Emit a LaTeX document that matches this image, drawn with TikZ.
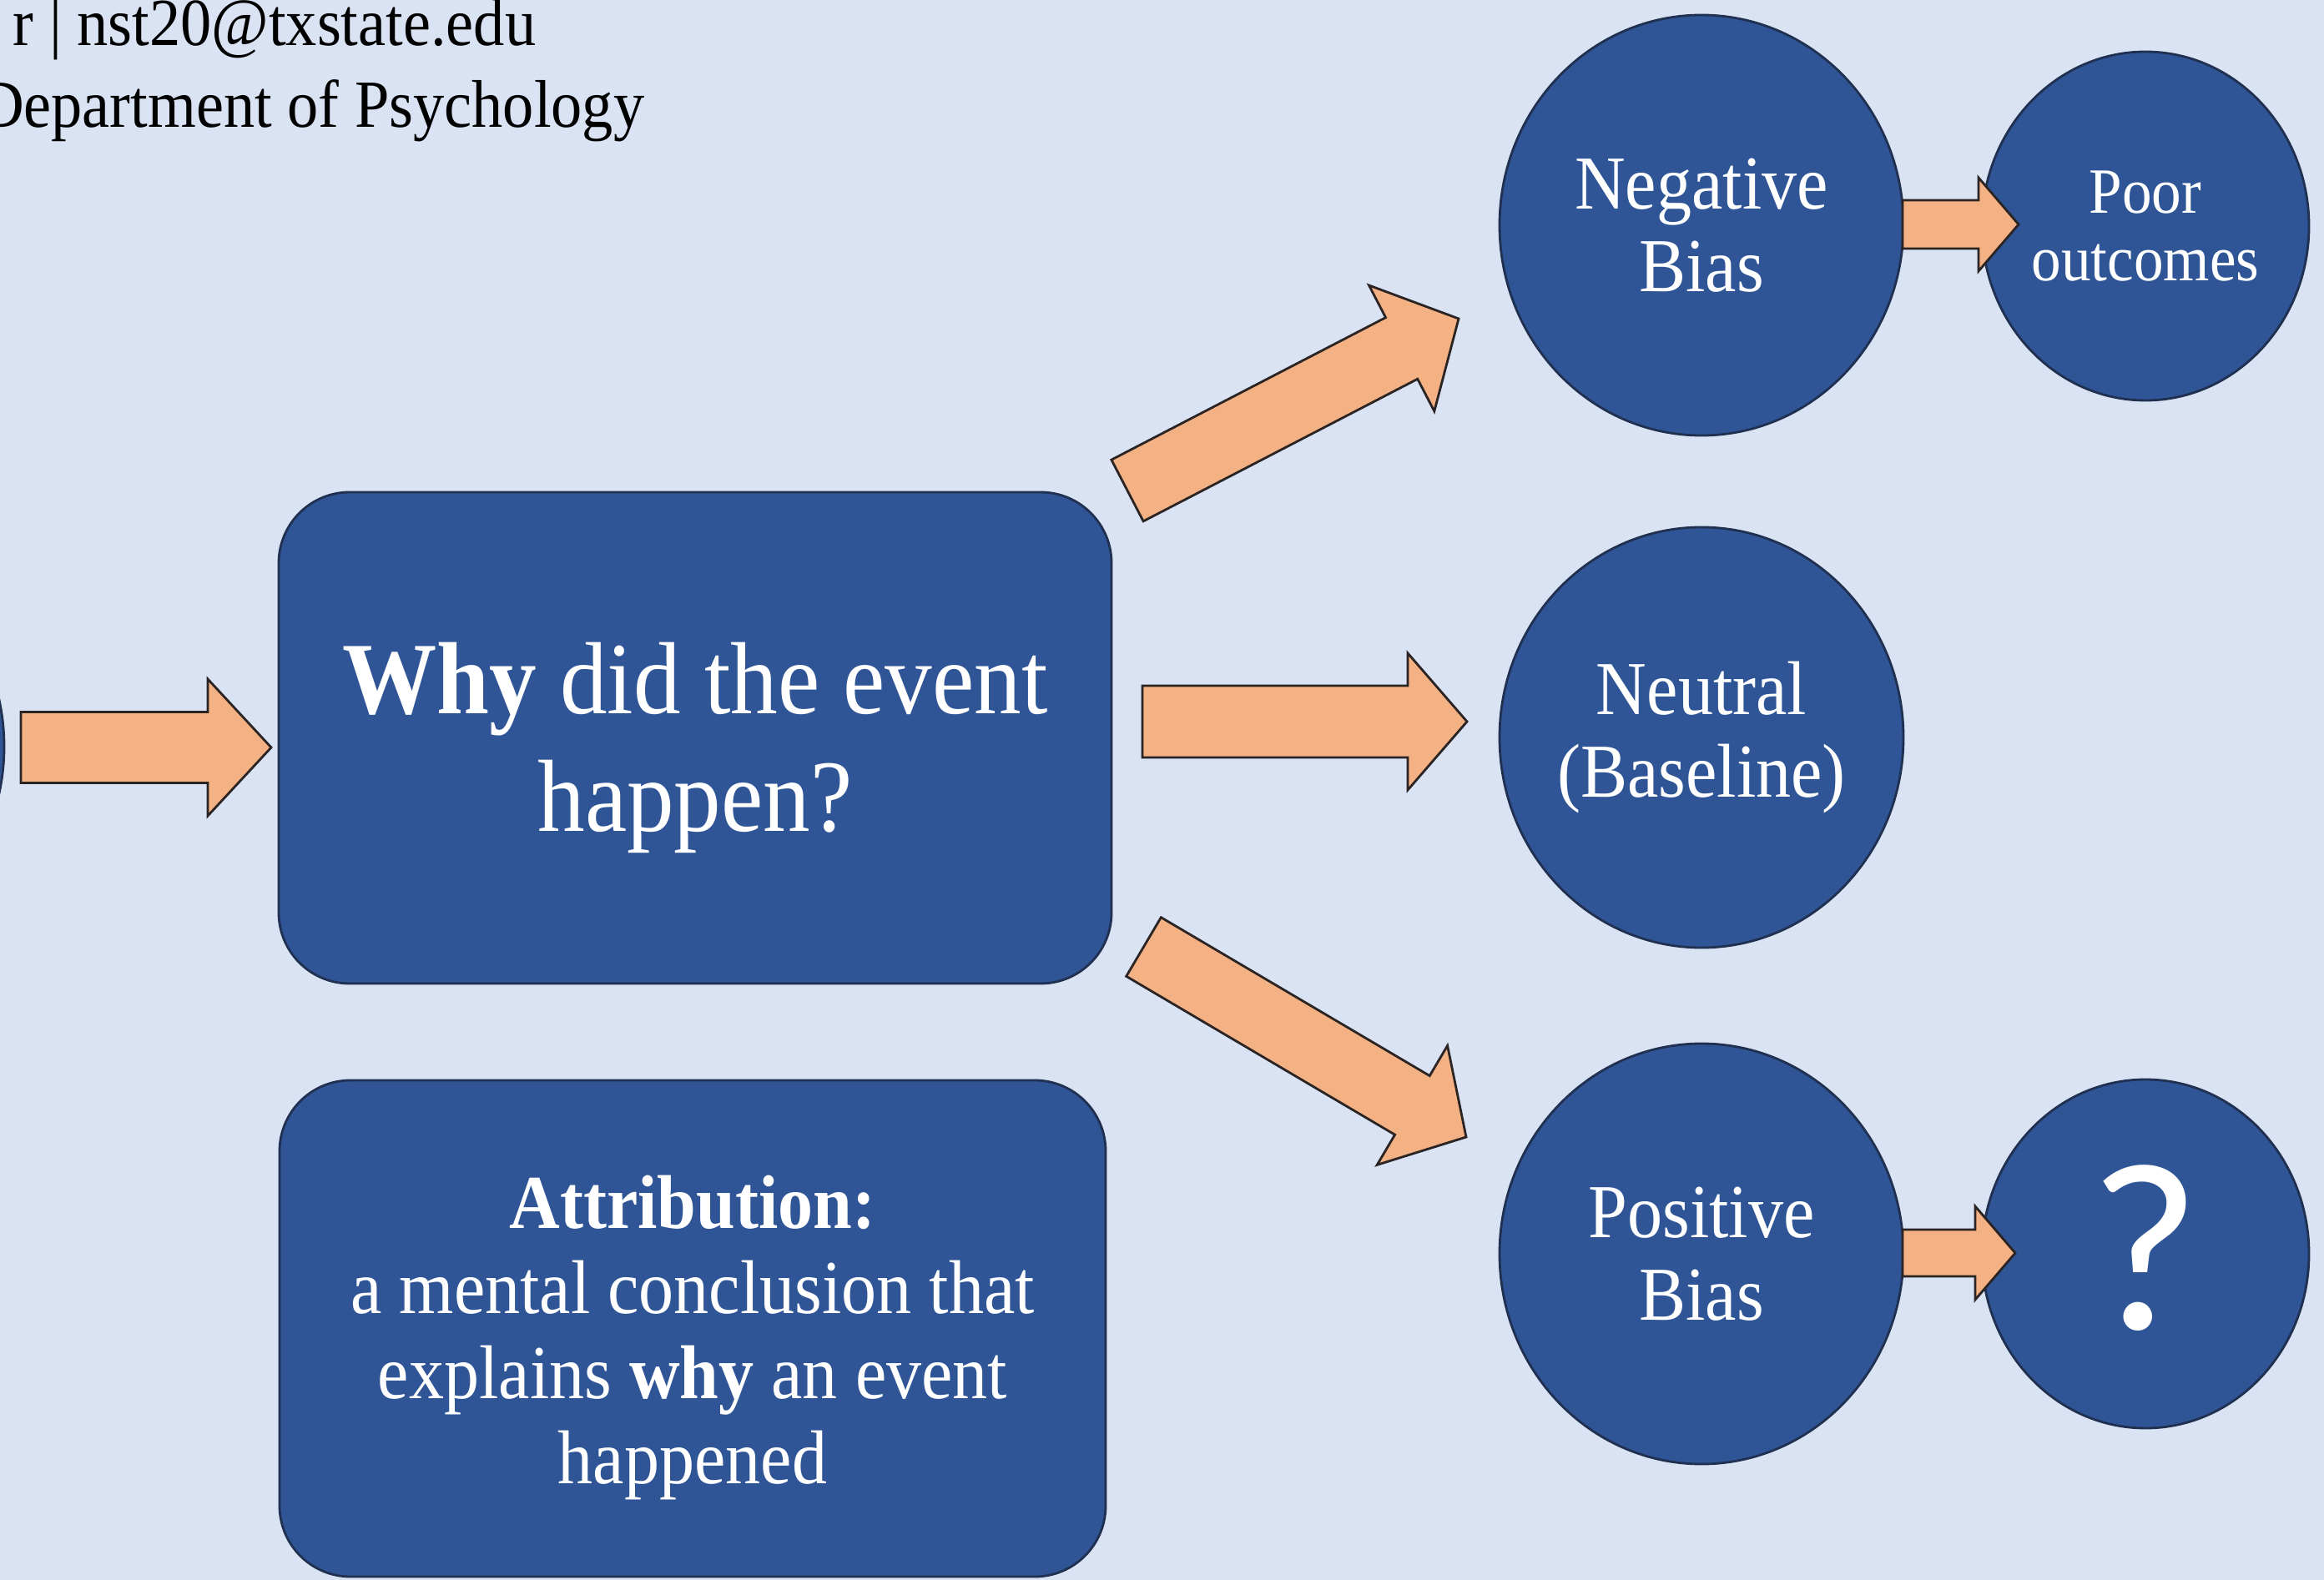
\documentclass[tikz,border=0pt]{standalone}
\usepackage{fontspec}
\setmainfont{Liberation Serif}[FakeStretch=0.92]
\newfontfamily\qmarkfont{Carlito}
\usepackage{xcolor}
\usetikzlibrary{shapes,calc,positioning}

\definecolor{bgblue}{HTML}{DAE3F3}
\definecolor{boxblue}{HTML}{2F5597}
\definecolor{boxline}{HTML}{1F3050}
\definecolor{arroworange}{HTML}{F4B183}
\definecolor{arrowline}{HTML}{2B2424}

\tikzset{
  bluebox/.style={draw=boxline, fill=boxblue, line width=0.8pt, rounded corners=0.85cm, text=white, align=center},
  bluedot/.style={ellipse, draw=boxline, fill=boxblue, line width=0.8pt, inner sep=0pt, minimum width=4.84cm, minimum height=5.04cm},
  smalldot/.style={bluedot, minimum width=3.92cm, minimum height=4.18cm},
  dottext/.style={text=white, align=center, font=\fontsize{26}{28}\selectfont},
  headtext/.style={text=black, inner sep=0pt, font=\fontsize{23}{27}\selectfont},
  fatarrow/.style={draw=arrowline, fill=arroworange, line width=0.8pt, line join=miter}
}

% block arrow: tail, tip, half shaft width, half head width, head length
\newcommand{\blockarrow}[5]{%
  \coordinate (hb) at ($(#2)!#5!(#1)$);
  \draw[fatarrow] ($(#1)!#3!90:(#2)$) -- ($(hb)!#3!90:(#2)$) -- ($(hb)!#4!90:(#2)$) -- (#2)
    -- ($(hb)!#4!-90:(#2)$) -- ($(hb)!#3!-90:(#2)$) -- ($(#1)!#3!-90:(#2)$) -- cycle;
}

\begin{document}
\begin{tikzpicture}
\useasboundingbox (0,0) rectangle (27.85,-18.94);
\clip (0,0) rectangle (27.85,-18.94);
\fill[bgblue] (0,0) rectangle (27.85,-18.94);

% contact lines, cut at the left edge
\node[headtext, anchor=base east] (mail) at (6.43,-0.55) {r | nst20@txstate.edu};
\node[headtext, anchor=base east] (dept) at (7.73,-1.53) {Department of Psychology};

% shape cut off at the left edge
\draw[draw=boxline, fill=boxblue, line width=0.8pt] (-2.37,-8.95) ellipse (2.42 and 2.52);

% boxes
\node[bluebox, minimum width=9.98cm, minimum height=5.89cm] (why) at (8.33,-8.845) {};
\node[text=white, align=center, font=\fontsize{35}{40}\selectfont] at ($(why)+(0,-0.12)$) {\textbf{Why} did the event\\happen?};
\node[bluebox, minimum width=9.90cm, minimum height=5.95cm] (attr) at (8.30,-15.925) {};
\node[text=white, align=center, font=\fontsize{26}{29}\selectfont] at ($(attr)+(0,-0.11)$) {\textbf{Attribution:}\\a mental conclusion that\\explains \textbf{why} an event\\happened};

% outcomes
\node[bluedot] (neg) at (20.39,-2.70) {};
\node[dottext] at (neg) {Negative\\Bias};
\node[bluedot] (neu) at (20.39,-8.84) {};
\node[dottext] at (neu) {Neutral\\(Baseline)};
\node[bluedot] (pos) at (20.39,-15.03) {};
\node[dottext] at (pos) {Positive\\Bias};
\node[smalldot] (poor) at (25.71,-2.71) {};
\node[dottext, font=\fontsize{22}{23}\selectfont] at (poor) {Poor\\outcomes};
\node[smalldot] (unk) at (25.71,-15.03) {};
\node[text=white, font=\qmarkfont\fontsize{82}{82}\selectfont] at (25.70,-14.96) {?};

% arrows
\coordinate (inT) at (0.25,-8.96);
\coordinate (inH) at (3.25,-8.96);
\blockarrow{inT}{inH}{0.425cm}{0.82cm}{0.76cm}
\coordinate (upT) at (13.51,-5.88);
\coordinate (upH) at (17.48,-3.82);
\blockarrow{upT}{upH}{0.415cm}{0.85cm}{0.77cm}
\coordinate (midT) at (13.69,-8.65);
\coordinate (midH) at (17.58,-8.65);
\blockarrow{midT}{midH}{0.43cm}{0.82cm}{0.71cm}
\coordinate (lowT) at (13.705,-11.35);
\coordinate (lowH) at (17.57,-13.63);
\blockarrow{lowT}{lowH}{0.41cm}{0.83cm}{0.75cm}
\coordinate (negT) at (22.80,-2.69);
\coordinate (negH) at (24.19,-2.69);
\blockarrow{negT}{negH}{0.29cm}{0.56cm}{0.48cm}
\coordinate (posT) at (22.80,-15.02);
\coordinate (posH) at (24.15,-15.02);
\blockarrow{posT}{posH}{0.28cm}{0.56cm}{0.48cm}
\end{tikzpicture}
\end{document}
